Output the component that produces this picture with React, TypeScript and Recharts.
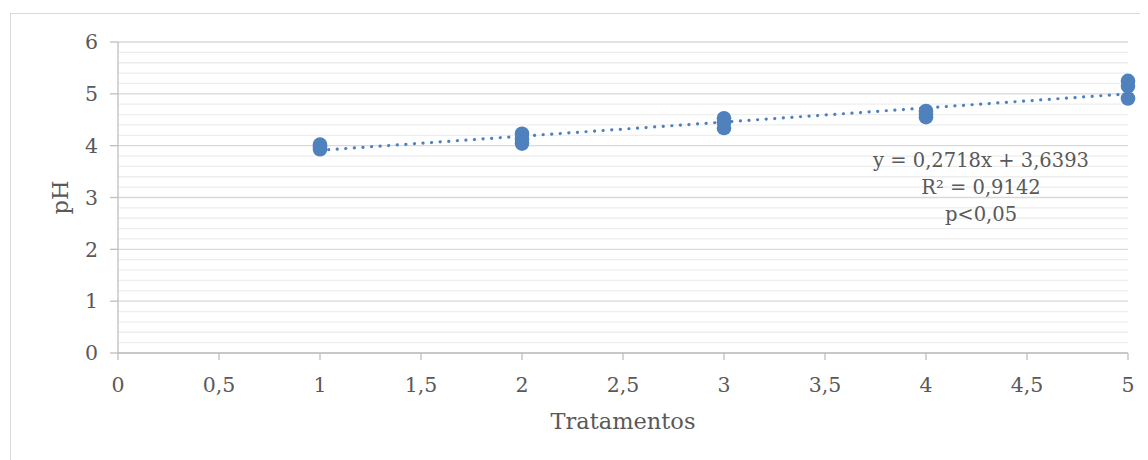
import React from 'react';
import { ScatterChart, Scatter, XAxis, YAxis, CartesianGrid, Label } from 'recharts';

// pH readings per treatment (replicates)
const treatments = [1, 2, 3, 4, 5];
const phT1 = [3.93, 3.98, 4.02];
const phT2 = [4.04, 4.13, 4.23];
const phT3 = [4.34, 4.45, 4.53];
const phT4 = [4.55, 4.61, 4.67];
const phT5 = [4.91, 5.15, 5.25];

// linear trendline end points as drawn
const trendX = [1, 5];
const trendY = [3.91, 5.0];

const xTicks = [0, 0.5, 1, 1.5, 2, 2.5, 3, 3.5, 4, 4.5, 5];
const yTicks = [0, 1, 2, 3, 4, 5, 6];
const yMinorTicks = [
  0.2, 0.4, 0.6, 0.8, 1.2, 1.4, 1.6, 1.8, 2.2, 2.4, 2.6, 2.8, 3.2, 3.4, 3.6, 3.8,
  4.2, 4.4, 4.6, 4.8, 5.2, 5.4, 5.6, 5.8,
];
const equationLines = ['y = 0,2718x + 3,6393', 'R² = 0,9142', 'p<0,05'];

const BLUE = '#4f81bd';
const TEXT = '#595959';
const FONT = '"DejaVu Serif", serif';

const points = [phT1, phT2, phT3, phT4, phT5].flatMap((vals, i) =>
  vals.map((ph) => ({ x: treatments[i], y: ph }))
);
const trend = trendX.map((x, i) => ({ x, y: trendY[i] }));

const fmt = (v: number) => String(v).replace('.', ',');

const Dot = (props: any) => <circle cx={props.cx} cy={props.cy} r={7.3} fill={BLUE} />;

// minor gridlines every 0.2 using the y axis scale
const minorLines = ({ yAxis, offset }: any) =>
  yMinorTicks.map((t) =>
    yAxis && typeof yAxis.scale === 'function'
      ? yAxis.scale(t)
      : offset.top + offset.height * (1 - t / 6)
  );

const App: React.FC = () => {
  return (
    <div style={{ position: 'relative', width: 1140, height: 452, fontFamily: FONT }}>
      <div
        style={{
          position: 'absolute',
          left: 2,
          top: 5,
          width: 1138,
          height: 447,
          borderTop: '1px solid #d9d9d9',
          borderLeft: '1px solid #d9d9d9',
          boxSizing: 'border-box',
        }}
      />
      <ScatterChart width={1140} height={452} margin={{ top: 34, right: 20, bottom: 47, left: 0 }}>
        <CartesianGrid
          vertical={false}
          stroke="#eeeeee"
          strokeWidth={1.3}
          horizontalCoordinatesGenerator={minorLines}
        />
        <CartesianGrid vertical={false} stroke="#d9d9d9" strokeWidth={1.3} />
        <XAxis
          type="number"
          dataKey="x"
          domain={[0, 5]}
          ticks={xTicks}
          tickFormatter={fmt}
          stroke="#bfbfbf"
          strokeWidth={1.3}
          tickSize={7}
          tickMargin={17}
          height={60}
          tick={{ fill: TEXT, fontSize: 20.5, fontFamily: FONT }}
        >
          <Label
            value="Tratamentos"
            position="bottom"
            offset={0}
            style={{ fill: TEXT, fontSize: 22.5, fontFamily: FONT }}
          />
        </XAxis>
        <YAxis
          type="number"
          dataKey="y"
          domain={[0, 6]}
          ticks={yTicks}
          stroke="#bfbfbf"
          strokeWidth={1.3}
          tickSize={8}
          tickMargin={12}
          width={110}
          tick={{ fill: TEXT, fontSize: 20.5, fontFamily: FONT }}
        >
          <Label
            content={(p: any) => {
              const vb = p.viewBox;
              const cx = vb.x + 52;
              const cy = vb.y + vb.height / 2;
              return (
                <text
                  x={cx}
                  y={cy}
                  transform={`rotate(-90 ${cx} ${cy})`}
                  textAnchor="middle"
                  dominantBaseline="central"
                  fill={TEXT}
                  fontSize={22.5}
                  fontFamily={FONT}
                >
                  pH
                </text>
              );
            }}
          />
        </YAxis>
        <Scatter
          data={trend}
          fill={BLUE}
          isAnimationActive={false}
          line={{ stroke: BLUE, strokeWidth: 3.2, strokeDasharray: '0.1 8.5', strokeLinecap: 'round' }}
          shape={() => <g />}
        />
        <Scatter data={points} fill={BLUE} isAnimationActive={false} shape={Dot} />
      </ScatterChart>
      <div
        style={{
          position: 'absolute',
          left: 823,
          top: 139,
          width: 300,
          textAlign: 'center',
          whiteSpace: 'nowrap',
          color: TEXT,
          fontSize: 19.5,
          lineHeight: '27px',
        }}
      >
        {equationLines.map((l) => (
          <div key={l}>{l}</div>
        ))}
      </div>
    </div>
  );
};

export default App;
